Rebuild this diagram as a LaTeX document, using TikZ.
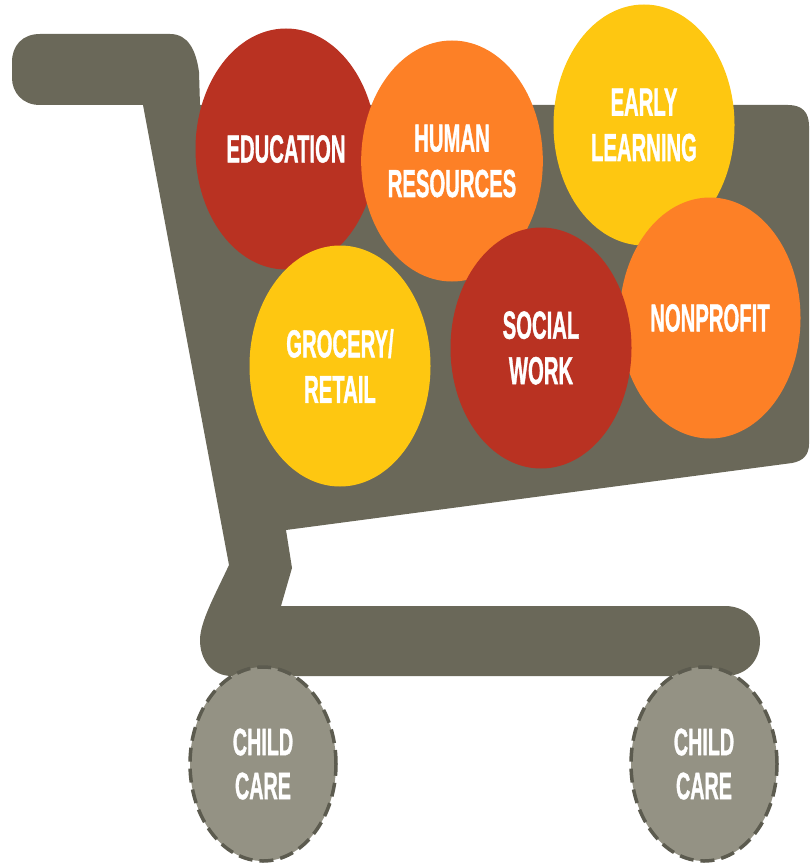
\documentclass[tikz,border=0pt]{standalone}
\usepackage{fontspec}
\setmainfont{Liberation Sans}[BoldFeatures={FakeBold=1.5}]
\usepackage{graphicx}
\usetikzlibrary{shapes.geometric}
\definecolor{cartgrey}{HTML}{6A6859}
\definecolor{bred}{HTML}{B93222}
\definecolor{borange}{HTML}{FD8026}
\definecolor{byellow}{HTML}{FEC711}
\definecolor{wheelfill}{HTML}{949284}
\definecolor{wheeldash}{HTML}{5C5B4F}
\newcommand\cnd[1]{\scalebox{0.52}[1]{#1}}
\tikzset{
  ball/.style={ellipse, minimum width=181pt, minimum height=241pt, inner sep=0pt,
    text=white, align=center, font=\fontsize{39}{45.5}\selectfont\bfseries},
  wheel/.style={ellipse, minimum width=146pt, minimum height=194pt, inner sep=0pt,
    fill=wheelfill, draw=wheeldash, line width=3.5pt, dash pattern=on 14pt off 7pt,
    text=white, align=center, font=\fontsize{38}{44}\selectfont\bfseries}
}
\begin{document}
\begin{tikzpicture}[x=1pt, y=-1pt]
\useasboundingbox (0,0) rectangle (809,864);
% cart body
\fill[cartgrey] (40,34) -- (170,34) .. controls (188,34) and (196,50) .. (199,72) -- (200,105)
  -- (788,105) .. controls (802,105) and (809,112) .. (809,126) -- (809,444)
  .. controls (809,455) and (803,461) .. (792,463) -- (286,530) -- (292,568) -- (281,606)
  -- (725,606) .. controls (745,606) and (760,620) .. (760,641)
  .. controls (760,662) and (745,676) .. (725,676) -- (232,676)
  .. controls (212,676) and (200,660) .. (200,640)
  .. controls (200,622) and (215,595) .. (229,565) -- (143,105) -- (40,105)
  .. controls (22,105) and (12,92) .. (12,78) -- (12,62)
  .. controls (12,46) and (22,34) .. (40,34) -- cycle;
% wheels
\node[wheel] (wl) at (263,764) {\cnd{CHILD}\\\cnd{CARE}};
\node[wheel] (wr) at (704,764) {\cnd{CHILD}\\\cnd{CARE}};
% balls
\node[ball, fill=bred] (edu) at (286,149) {\cnd{EDUCATION}};
\node[ball, fill=borange] (hr) at (452,161) {\cnd{HUMAN}\\\cnd{RESOURCES}};
\node[ball, fill=byellow] (el) at (644,125) {\cnd{EARLY}\\\cnd{LEARNING}};
\node[ball, fill=borange] (np) at (710,318) {\cnd{NONPROFIT}};
\node[ball, fill=byellow] (gr) at (340,366) {\cnd{GROCERY/}\\\cnd{RETAIL}};
\node[ball, fill=bred] (sw) at (541,348) {\cnd{SOCIAL}\\\cnd{WORK}};
\end{tikzpicture}
\end{document}
